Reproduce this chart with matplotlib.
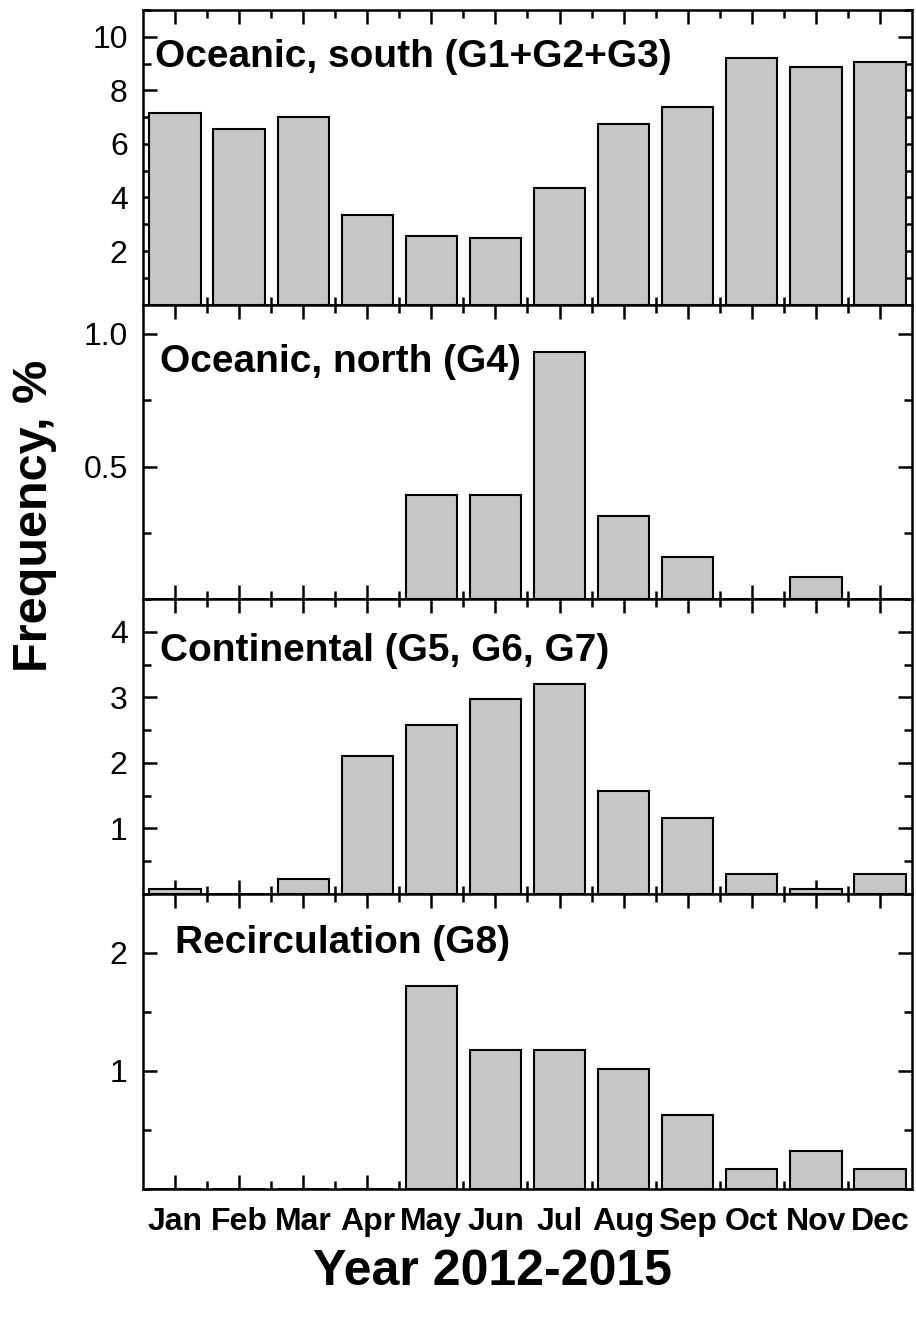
import matplotlib
matplotlib.use("Agg")
import matplotlib.pyplot as plt
from matplotlib.ticker import MultipleLocator, FixedLocator
import numpy as np

plt.rcParams['font.family'] = ['Liberation Sans', 'DejaVu Sans']

months = ["Jan", "Feb", "Mar", "Apr", "May", "Jun", "Jul", "Aug", "Sep", "Oct", "Nov", "Dec"]

oceanic_south = [7.14, 6.55, 7.00, 3.33, 2.56, 2.49, 4.36, 6.76, 7.38, 9.19, 8.88, 9.04]
oceanic_north = [0, 0, 0, 0, 0.391, 0.391, 0.93, 0.313, 0.159, 0, 0.084, 0]
continental = [0.08, 0, 0.23, 2.11, 2.58, 2.98, 3.21, 1.57, 1.16, 0.31, 0.075, 0.31]
recirculation = [0, 0, 0, 0, 1.72, 1.175, 1.175, 1.017, 0.625, 0.164, 0.314, 0.164]

titles = ["Oceanic, south (G1+G2+G3)", "Oceanic, north (G4)",
          "Continental (G5, G6, G7)", "Recirculation (G8)"]
series = [oceanic_south, oceanic_north, continental, recirculation]
ylims = [11.0, 1.11, 4.5, 2.5]
major_ticks = [[2, 4, 6, 8, 10], [0.5, 1.0], [1, 2, 3, 4], [1, 2]]
minor_steps = [1, 0.25, 0.5, 0.5]
tick_fmt = ["{:.0f}", "{:.1f}", "{:.0f}", "{:.0f}"]
title_pos = [(0.0156, 0.806), (0.022, 0.770), (0.022, 0.792), (0.0416, 0.801)]

W, H = 916, 1318
fig = plt.figure(figsize=(W / 100, H / 100), dpi=100)

left = 143 / W
right = 912 / W
top = 1 - 10 / H
bottom = 1 - 1188.5 / H
ph = (top - bottom) / 4

x = np.arange(1, 13)
axes = []
for i in range(4):
    ax = fig.add_axes([left, top - (i + 1) * ph, right - left, ph])
    axes.append(ax)
    ax.bar(x, series[i], width=0.8, color='#c6c6c6', edgecolor='black',
           linewidth=1.5, zorder=2)
    ax.set_xlim(0.5, 12.5)
    ax.set_ylim(0, ylims[i])
    ax.yaxis.set_major_locator(FixedLocator(major_ticks[i]))
    ax.set_yticklabels([tick_fmt[i].format(v) for v in major_ticks[i]])
    ax.yaxis.set_minor_locator(MultipleLocator(minor_steps[i]))
    ax.xaxis.set_major_locator(FixedLocator(x))
    ax.xaxis.set_minor_locator(FixedLocator(x[:-1] + 0.5))
    ax.tick_params(which='both', direction='in', top=True, right=True,
                   width=1.8, zorder=5)
    ax.tick_params(which='major', length=10)
    ax.tick_params(which='minor', length=5.5)
    ax.tick_params(axis='y', labelsize=23, pad=11)
    for sp in ax.spines.values():
        sp.set_linewidth(1.8)
        sp.set_zorder(6)
    if i < 3:
        ax.set_xticklabels([])
    else:
        ax.set_xticklabels(months, fontsize=23, fontweight='bold')
        ax.tick_params(axis='x', pad=13)
    tx, ty = title_pos[i]
    ax.text(tx, ty, titles[i], transform=ax.transAxes, fontsize=28,
            fontweight='bold', ha='left', va='baseline', zorder=7)

fig.text(35 / W, 1 - 516 / H, "Frequency, %", rotation=90, fontsize=35,
         fontweight='bold', ha='center', va='center')
fig.text(492 / W, 1 - 1285 / H, "Year 2012-2015", fontsize=36,
         fontweight='bold', ha='center', va='baseline')

fig.savefig("out.png", dpi=100)
